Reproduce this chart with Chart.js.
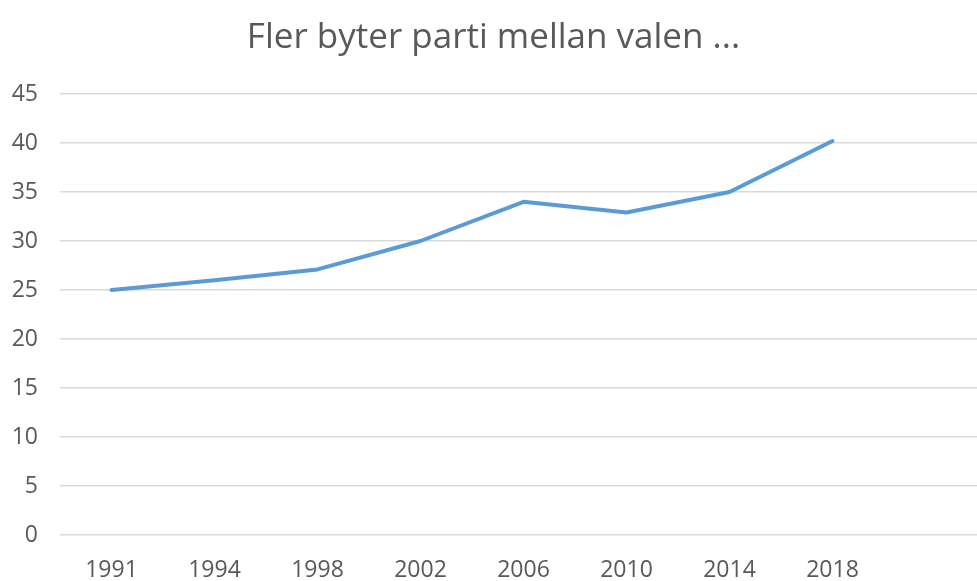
<!DOCTYPE html>
<html>
<head>
<meta charset="utf-8">
<script src="https://cdn.jsdelivr.net/npm/chart.js@4.4.1/dist/chart.umd.min.js"></script>
<style>
  html, body { margin: 0; padding: 0; background: #fff; overflow: hidden; }
  #wrap { width: 990px; height: 581px; }
</style>
</head>
<body>
<div id="wrap"><canvas id="chart1" width="990" height="581"></canvas></div>
<script>
var years = ["1991", "1994", "1998", "2002", "2006", "2010", "2014", "2018", ""];
var values = [25, 26, 27.1, 30, 34, 32.9, 35, 40.2, null];
var yTicks = [0, 5, 10, 15, 20, 25, 30, 35, 40, 45];

var textGrey = '#595959';

var ctx = document.getElementById('chart1').getContext('2d');
var chart = new Chart(ctx, {
    type: 'line',
    data: {
        labels: years,
        datasets: [{
            label: "Byter parti",
            data: values,
            borderColor: '#5B9BD5',
            backgroundColor: '#5B9BD5',
            borderWidth: 4,
            pointRadius: 0,
            tension: 0,
            borderCapStyle: 'round',
            borderJoinStyle: 'round'
        }]
    },
    options: {
        responsive: false,
        animation: false,
        layout: { padding: { left: 0, right: 3, top: 0, bottom: 0 } },
        plugins: {
            legend: { display: false },
            tooltip: { enabled: false },
            title: {
                display: true,
                text: 'Fler byter parti mellan valen ...',
                color: textGrey,
                font: { family: 'Open Sans', size: 35, weight: 'normal' },
                padding: { top: 17, bottom: 35 }
            }
        },
        scales: {
            x: {
                offset: true,
                grid: { display: false, drawTicks: false },
                border: { display: false },
                ticks: {
                    color: textGrey,
                    font: { family: 'Open Sans', size: 23 },
                    padding: 22,
                    maxRotation: 0,
                    autoSkip: false
                },
                afterFit: function(scale) { scale.height = 46; }
            },
            y: {
                min: 0,
                max: 45,
                afterBuildTicks: function(scale) {
                    scale.ticks = yTicks.map(function(v) { return { value: v }; });
                },
                grid: { color: '#d9d9d9', lineWidth: 1.5, drawTicks: false },
                border: { display: false },
                ticks: {
                    color: textGrey,
                    font: { family: 'Open Sans', size: 23 },
                    padding: 22
                },
                afterFit: function(scale) { scale.width = 60; }
            }
        }
    }
});
</script>
</body>
</html>
